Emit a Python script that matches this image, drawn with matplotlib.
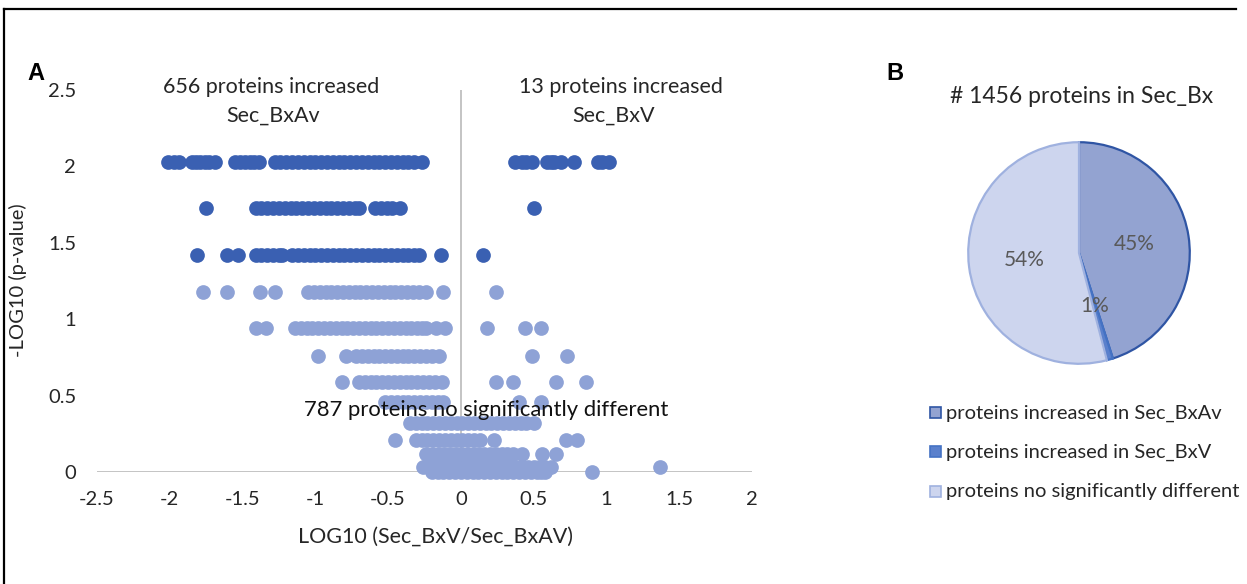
import numpy as np
import matplotlib
matplotlib.use("Agg")
import matplotlib.pyplot as plt
from matplotlib.lines import Line2D
from matplotlib.patches import Rectangle

plt.rcParams['font.family'] = ['Lato', 'DejaVu Sans']

# --- volcano data: one list of LOG10 ratios per -LOG10(p) level ---
row_levels = [2.03, 1.73, 1.42, 1.18, 0.94, 0.76, 0.59, 0.46, 0.32, 0.21, 0.12, 0.03, 0.0]

x_203 = [-2.01, -1.97, -1.94, -1.85, -1.82, -1.79, -1.76, -1.73, -1.69,
         -1.55, -1.52, -1.48, -1.45, -1.42, -1.39,
         -1.28, -1.24, -1.20, -1.16, -1.12, -1.08, -1.04, -1.00, -0.96, -0.92,
         -0.88, -0.84, -0.80, -0.76, -0.72, -0.68, -0.64, -0.60, -0.56, -0.52,
         -0.48, -0.44, -0.40, -0.36, -0.32, -0.27,
         0.37, 0.42, 0.45, 0.49, 0.59, 0.62, 0.64, 0.69, 0.78, 0.94, 0.97, 1.02]
x_173 = [-1.75,
         -1.41, -1.37, -1.33, -1.29, -1.25, -1.21, -1.17, -1.13, -1.09, -1.05,
         -1.01, -0.97, -0.93, -0.89, -0.85, -0.81, -0.77, -0.73, -0.70,
         -0.59, -0.55, -0.51, -0.47, -0.42,
         0.50]
x_142 = [-1.81, -1.61, -1.53,
         -1.41, -1.37, -1.33, -1.29, -1.25, -1.23,
         -1.16, -1.12, -1.08, -1.04, -1.00, -0.96, -0.92, -0.88, -0.84, -0.80,
         -0.76, -0.72, -0.68, -0.64, -0.60, -0.56, -0.52, -0.48, -0.44, -0.40,
         -0.36, -0.32, -0.29, -0.14,
         0.15]
x_118 = [-1.77, -1.61, -1.38, -1.28,
         -1.05, -1.01, -0.97, -0.93, -0.89, -0.85, -0.81, -0.77, -0.73, -0.69,
         -0.65, -0.61, -0.57, -0.53, -0.49, -0.45, -0.41, -0.37, -0.33, -0.29,
         -0.24, -0.12,
         0.24]
x_094 = [-1.41, -1.34,
         -1.14, -1.10, -1.06, -1.02, -0.98, -0.94, -0.90, -0.86, -0.82, -0.78,
         -0.74, -0.70, -0.66, -0.62, -0.58, -0.54, -0.50, -0.46, -0.42, -0.38,
         -0.34, -0.30, -0.27, -0.24, -0.17, -0.11,
         0.18, 0.44, 0.55]
x_076 = [-0.98, -0.79,
         -0.72, -0.68, -0.64, -0.60, -0.56, -0.52, -0.48, -0.44, -0.40, -0.36,
         -0.32, -0.28, -0.24, -0.20, -0.15,
         0.49, 0.73]
x_059 = [-0.82,
         -0.70, -0.66, -0.62, -0.58, -0.54, -0.50, -0.46, -0.42, -0.38, -0.34,
         -0.30, -0.26, -0.22, -0.18, -0.13,
         0.24, 0.36, 0.65, 0.86]
x_046 = [-0.52, -0.48, -0.44, -0.40, -0.36, -0.32, -0.28, -0.24, -0.20, -0.16,
         -0.12, 0.40, 0.55]
x_032 = [-0.35, -0.31, -0.27, -0.23, -0.19, -0.15, -0.11, -0.07, -0.03, 0.01,
         0.05, 0.09, 0.13, 0.17, 0.21, 0.25, 0.29, 0.33, 0.37, 0.41, 0.45, 0.50]
x_021 = [-0.45,
         -0.31, -0.27, -0.23, -0.19, -0.15, -0.11, -0.07, -0.03, 0.01, 0.05,
         0.09, 0.13, 0.23, 0.72, 0.80]
x_012 = [-0.24, -0.20, -0.16, -0.12, -0.08, -0.04, 0.0, 0.04, 0.08, 0.12,
         0.16, 0.20, 0.24, 0.28, 0.32, 0.36, 0.42, 0.56, 0.65]
x_003 = [-0.26, -0.22, -0.18, -0.14, -0.10, -0.06, -0.02, 0.02, 0.06, 0.10,
         0.14, 0.18, 0.22, 0.26, 0.30, 0.34, 0.38, 0.42, 0.46, 0.50, 0.54,
         0.58, 0.62, 1.37]
x_000 = [-0.20, -0.16, -0.12, -0.08, -0.04, 0.0, 0.04, 0.08, 0.12, 0.16,
         0.20, 0.24, 0.28, 0.32, 0.36, 0.40, 0.44, 0.48, 0.52, 0.55, 0.58, 0.90]
rows_x = [x_203, x_173, x_142, x_118, x_094, x_076, x_059, x_046, x_032,
          x_021, x_012, x_003, x_000]
sig_cut = 1.3

x_ticks = [-2.5, -2, -1.5, -1, -0.5, 0, 0.5, 1, 1.5, 2]
x_ticklabels = ['-2.5', '-2', '-1.5', '-1', '-0.5', '0', '0.5', '1', '1.5', '2']
y_ticks = [0, 0.5, 1, 1.5, 2, 2.5]
y_ticklabels = ['0', '0.5', '1', '1.5', '2', '2.5']

# --- pie data ---
pie_labels = ['proteins increased in Sec_BxAv', 'proteins increased in Sec_BxV',
              'proteins no significantly different']
pie_counts = [656, 13, 787]

dark = '#3A60B2'
light = '#8EA2D6'
pie_fill = ['#93A3D1', '#5A80CC', '#CDD5EE']
pie_edge = ['#2F55A4', '#4472C4', '#9FB1DF']
txt = '#262626'

W, H = 1247, 584
fig = plt.figure(figsize=(W / 100, H / 100), dpi=100)

def fx(px):
    return px / W

def fy(py):
    return 1 - py / H

# ---------------- panel A ----------------
ax = fig.add_axes([fx(97), fy(472), fx(752) - fx(97), fy(90) - fy(472)])
for lvl, xs in zip(row_levels, rows_x):
    col = dark if lvl > sig_cut else light
    ax.scatter(xs, [lvl] * len(xs), s=112, color=col, linewidths=0,
               zorder=3, clip_on=False)

ax.axhline(0, color='#BFBFBF', lw=1.3, zorder=1)
ax.axvline(0, color='#BFBFBF', lw=1.3, zorder=1)
ax.set_xlim(-2.5, 2)
ax.set_ylim(0, 2.5)
for sp in ax.spines.values():
    sp.set_visible(False)
ax.set_xticks(x_ticks)
ax.set_xticklabels(x_ticklabels)
ax.set_yticks(y_ticks)
ax.set_yticklabels(y_ticklabels)
ax.tick_params(length=0, labelsize=14.5, labelcolor=txt)
ax.tick_params(axis='y', pad=15)
ax.tick_params(axis='x', pad=14)

fig.text(fx(435), fy(537), 'LOG10 (Sec_BxV/Sec_BxAV)', ha='center', va='center',
         fontsize=15.5, color=txt)
fig.text(fx(18), fy(280), '-LOG10 (p-value)', ha='center', va='center',
         rotation=90, fontsize=14.5, color=txt)

fig.text(fx(271), fy(87), '656 proteins increased', ha='center', va='center',
         fontsize=15.5, color=txt)
fig.text(fx(273), fy(116), 'Sec_BxAv', ha='center', va='center',
         fontsize=15.5, color=txt)
fig.text(fx(621), fy(87), '13 proteins increased', ha='center', va='center',
         fontsize=15.5, color=txt)
fig.text(fx(614), fy(116), 'Sec_BxV', ha='center', va='center',
         fontsize=15.5, color=txt)
fig.text(fx(486), fy(410), '787 proteins no significantly different', ha='center',
         va='center', fontsize=15.8, color='#111111', zorder=10)

fig.text(fx(36), fy(73), 'A', ha='center', va='center', fontsize=17,
         fontweight='bold', family='Liberation Sans')
fig.text(fx(895), fy(73), 'B', ha='center', va='center', fontsize=17,
         fontweight='bold', family='Liberation Sans')

# ---------------- panel B ----------------
cx, cy, r = 1079, 253, 113
ax2 = fig.add_axes([fx(cx - r), fy(cy + r), fx(2 * r), (2 * r) / H])
wedges, texts, autotexts = ax2.pie(
    pie_counts, colors=pie_fill, startangle=90, counterclock=False,
    autopct=lambda p: f'{p:.0f}%', pctdistance=0.5,
    wedgeprops=dict(linewidth=1.6),
    textprops=dict(fontsize=15, color='#595959'))
for w, ec in zip(wedges, pie_edge):
    w.set_edgecolor(ec)
ax2.set_xlim(-1.02, 1.02)
ax2.set_ylim(-1.02, 1.02)

fig.text(fx(1082), fy(97), '# 1456 proteins in Sec_Bx', ha='center', va='center',
         fontsize=16.5, color=txt)

# legend built by hand to match spacing
leg_y = [413, 452, 492]
for lab, fc, ec, py in zip(pie_labels, pie_fill, pie_edge, leg_y):
    fig.add_artist(Rectangle((fx(930), fy(py + 5)), fx(11), 11 / H,
                             facecolor=fc, edgecolor=ec, lw=1.2,
                             transform=fig.transFigure))
    fig.text(fx(946), fy(py), lab, ha='left', va='center', fontsize=14.5,
             color=txt)

# outer frame lines (top and left visible)
fig.add_artist(Line2D([fx(4), fx(1236)], [fy(9), fy(9)], color='black', lw=1.6,
                      transform=fig.transFigure))
fig.add_artist(Line2D([fx(4), fx(4)], [fy(9), 0], color='black', lw=1.6,
                      transform=fig.transFigure))

fig.savefig('out.png', dpi=100)
